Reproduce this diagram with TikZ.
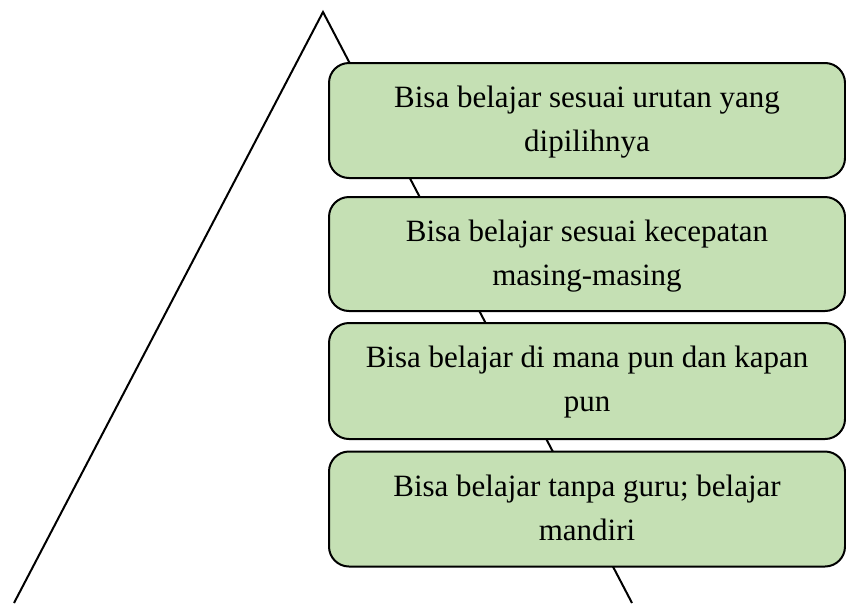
\documentclass[tikz,border=0pt]{standalone}
\usepackage{fontspec}
\setmainfont{Liberation Serif}
\definecolor{boxgreen}{HTML}{C5E0B4}
\begin{document}
\begin{tikzpicture}[x=1pt,y=-1pt,
  card/.style={draw=black, line width=2pt, fill=boxgreen, rounded corners=20pt,
    minimum width=516pt, minimum height=115pt, inner sep=0pt},
  txt/.style={anchor=base, inner sep=0pt, font=\fontsize{31}{36}\selectfont},
  edge/.style={draw=black, line width=2pt}]
\useasboundingbox (0,0) rectangle (846,603);
\coordinate (apex) at (323,12);
\coordinate (bl) at (14,603);
\coordinate (br) at (632,603);
\draw[edge] (bl) -- (apex) -- (br);
\node[card] (b1) at (587,120.5) {};
\node[card, minimum height=114pt] (b2) at (587,254) {};
\node[card, minimum height=116pt] (b3) at (587,381) {};
\node[card] (b4) at (587,509) {};
\node[txt] (t1a) at ([yshift=-45.5pt]b1.north) {Bisa belajar sesuai urutan yang};
\node[txt] (t1b) at ([yshift=-89.5pt]b1.north) {dipilihnya};
\node[txt] (t2a) at ([yshift=-45.5pt]b2.north) {Bisa belajar sesuai kecepatan};
\node[txt] (t2b) at ([yshift=-89.5pt]b2.north) {masing-masing};
\node[txt] (t3a) at ([yshift=-45.5pt]b3.north) {Bisa belajar di mana pun dan kapan};
\node[txt] (t3b) at ([yshift=-89.5pt]b3.north) {pun};
\node[txt] (t4a) at ([yshift=-45.5pt]b4.north) {Bisa belajar tanpa guru; belajar};
\node[txt] (t4b) at ([yshift=-89.5pt]b4.north) {mandiri};
\end{tikzpicture}
\end{document}
